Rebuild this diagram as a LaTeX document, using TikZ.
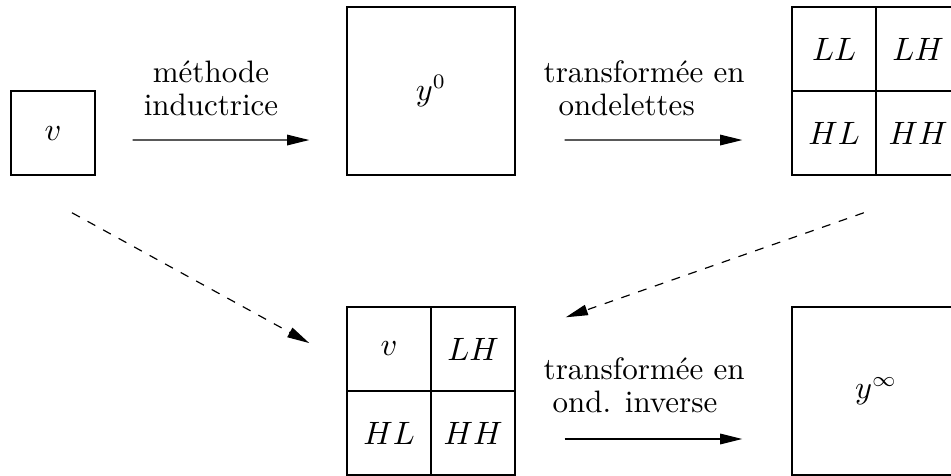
\documentclass[tikz,border=0pt]{standalone}
\usepackage{tikz}
\usetikzlibrary{arrows.meta, calc}

\begin{document}
\begin{tikzpicture}[
    >={Triangle[length=7.5pt, width=3.6pt]}, line width=0.5pt,
    every node/.style={font=\fontsize{10.5}{11.2}\selectfont},
    box/.style={rectangle, draw=black, minimum size=2cm, inner sep=0pt},
    small/.style={rectangle, draw=black, minimum size=1cm, inner sep=0pt},
    cell/.style={rectangle, draw=black, minimum size=1cm, inner sep=0pt},
    lbl/.style={inner sep=0pt},
    arr/.style={->, line width=0.4pt},
    darr/.style={->, dashed, line width=0.4pt}
]
\useasboundingbox (0,0) rectangle (11.321,5.655);

% Row 1
\node[small] (vin) at (0.631, 4.071) {$v$};
\node[box] (yzero) at (5.131, 4.571) {$y^0$};

\node[cell] (ll) at (9.929, 5.071) {$LL$};
\node[cell] (lh) at (10.929, 5.071) {$LH$};
\node[cell] (hl) at (9.929, 4.071) {$HL$};
\node[cell] (hh) at (10.929, 4.071) {$HH$};

% Row 2
\node[cell] (cv) at (4.631, 1.5) {$v$};
\node[cell] (clh) at (5.631, 1.5) {$LH$};
\node[cell] (chl) at (4.631, 0.5) {$HL$};
\node[cell] (chh) at (5.631, 0.5) {$HH$};

\node[box] (yinf) at (10.429, 1.0) {$y^\infty$};

% Labels
\node[lbl, align=center] (lmeth) at (2.512, 4.607) {méthode\\inductrice};
\node[lbl, align=left, anchor=west] (lond) at (6.464, 4.607) {transformée en\\\hspace*{5pt}ondelettes};
\node[lbl, align=left, anchor=west] (linv) at (6.464, 1.071) {transformée en\\\hspace*{3pt}ond. inverse};

% Connections
\draw[arr] ([shift={(0.44,-0.083)}]vin.east) -- ([shift={(-0.441,-0.583)}]yzero.west);
\draw[arr] ([shift={(0.583,-0.583)}]yzero.east) -- ([shift={(-0.584,-0.083)}]hl.west);
\draw[arr] ([shift={(0.583,-0.071)}]chh.east) -- ([shift={(-0.584,-0.571)}]yinf.west);

\draw[darr] ([shift={(0.226,-0.44)}]vin.south) -- ([shift={(-0.441,0.071)}]cv.west);
\draw[darr] ([shift={(-0.155,-0.44)}]hl.south east) -- ([shift={(0.595,-0.131)}]clh.north east);

\end{tikzpicture}
\end{document}
